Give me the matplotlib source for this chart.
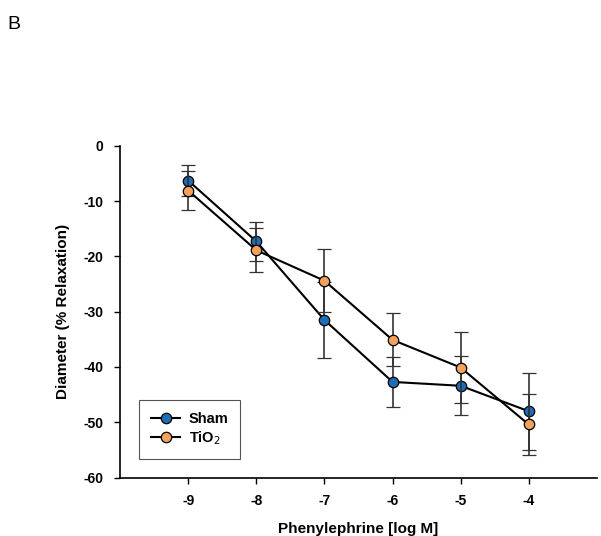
import matplotlib
matplotlib.use("Agg")
import matplotlib.pyplot as plt
from matplotlib.lines import Line2D

plt.rcParams['font.family'] = ['Liberation Sans', 'DejaVu Sans']

conc = [-9, -8, -7, -6, -5, -4]
sham = [-6.3, -17.3, -31.5, -42.7, -43.4, -48.0]
sham_err = [2.8, 3.6, 6.9, 4.5, 5.3, 7.0]
tio2 = [-8.1, -18.9, -24.4, -35.1, -40.1, -50.4]
tio2_err = [3.6, 4.0, 5.7, 4.8, 6.5, 5.5]

xticks = [-9, -8, -7, -6, -5, -4]
yticks = [0, -10, -20, -30, -40, -50, -60]

sham_color = '#1f6db3'
tio2_color = '#f2a25c'

fig = plt.figure(figsize=(6.01, 5.36), dpi=100)
ax = fig.add_axes([0.2, 0.109, 0.793, 0.619])

common = dict(color='black', lw=1.5, marker='o', markersize=7.5,
              markeredgecolor='black', markeredgewidth=0.9,
              ecolor='#333333', elinewidth=1.2, capsize=5, capthick=1.2)
ax.errorbar(conc, sham, yerr=sham_err, markerfacecolor=sham_color, zorder=3, **common)
ax.errorbar(conc, tio2, yerr=tio2_err, markerfacecolor=tio2_color, zorder=4, **common)

ax.set_xlim(-10, -3)
ax.set_ylim(-60, 0)
ax.set_xticks(xticks)
ax.set_xticklabels([str(v) for v in xticks])
ax.set_yticks(yticks)
ax.set_yticklabels([str(v) for v in yticks])
for lab in ax.get_xticklabels() + ax.get_yticklabels():
    lab.set_fontweight('bold')
    lab.set_fontsize(10)
ax.tick_params(direction='out', length=4, width=1, pad=8)
ax.spines['top'].set_visible(False)
ax.spines['right'].set_visible(False)
ax.spines['left'].set_linewidth(1.2)
ax.spines['bottom'].set_linewidth(1.2)

ax.set_xlabel('Phenylephrine [log M]', fontsize=11, fontweight='bold', labelpad=10)
ax.set_ylabel('Diameter (% Relaxation)', fontsize=11, fontweight='bold', labelpad=10)

handles = [
    Line2D([], [], color='black', lw=1.5, marker='o', markersize=7.5,
           markerfacecolor=sham_color, markeredgecolor='black', markeredgewidth=0.9),
    Line2D([], [], color='black', lw=1.5, marker='o', markersize=7.5,
           markerfacecolor=tio2_color, markeredgecolor='black', markeredgewidth=0.9),
]
leg = ax.legend(handles, ['Sham', 'TiO$_2$'], loc='lower left',
                bbox_to_anchor=(0.025, 0.035), fancybox=False,
                edgecolor='#555555', framealpha=1, fontsize=10.5, handlelength=2.0,
                borderpad=0.8, labelspacing=0.25, handletextpad=0.6)
for t in leg.get_texts():
    t.set_fontweight('bold')
leg.get_frame().set_linewidth(0.8)

fig.text(0.013, 0.955, 'B', fontsize=14, ha='left', va='center')

fig.savefig('out.png', dpi=100)
